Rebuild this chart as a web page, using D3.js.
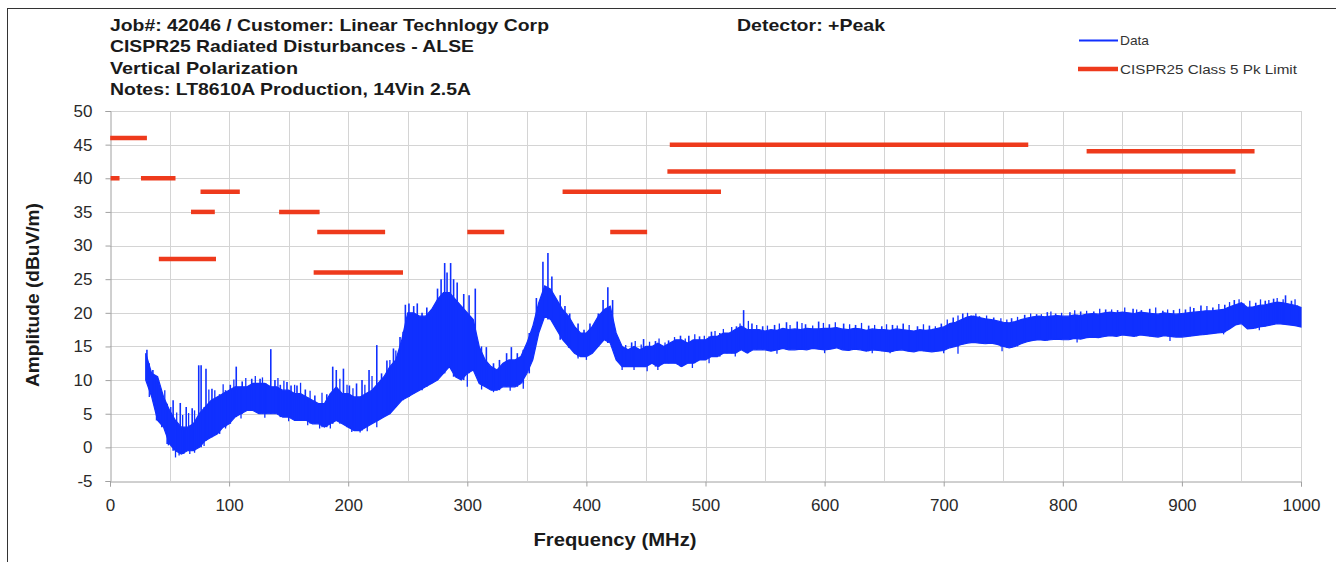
<!DOCTYPE html>
<html><head><meta charset="utf-8">
<script src="https://cdn.jsdelivr.net/npm/d3@7/dist/d3.min.js"></script>
<style>body{margin:0;background:#fff}svg{display:block}text{font-family:"Liberation Sans",Arial,sans-serif}</style>
</head><body>
<svg id="c" width="1336" height="562"></svg>
<script>
// ---- data ----
const titleLines = ["Job#: 42046 / Customer: Linear Technlogy Corp","CISPR25 Radiated Disturbances - ALSE","Vertical Polarization","Notes: LT8610A Production, 14Vin 2.5A"];
const detectorText = "Detector: +Peak";
const xTicks = [0,100,200,300,400,500,600,700,800,900,1000];
const yTicks = [-5,0,5,10,15,20,25,30,35,40,45,50];
const seriesNames = ["Data","CISPR25 Class 5 Pk Limit"];

// Limit segments: [fStart, fEnd, level]
const limitStart = [0.15, 0.5, 26, 76, 68, 142, 174, 41, 171, 300, 420, 380, 470, 468, 820];
const limitEnd   = [31, 8, 55, 109, 88, 176, 231, 89, 246, 331, 451, 513, 771, 945, 961];
const limitLevel = [46, 40, 40, 38, 35, 35, 32, 28, 26, 32, 32, 38, 45, 41, 44];

// Measured trace envelope (MHz, lower and upper edge of the dense trace)
const dataFreq = [30,35,40,45,50,55,60,65,70,75,80,85,90,95,100,
105,110,115,120,125,130,135,140,145,150,155,160,165,170,175,180,185,190,195,200,
205,210,215,220,225,230,235,240,245,250,255,260,265,270,275,280,285,290,295,300,
305,310,315,320,325,330,335,340,345,350,355,360,365,370,375,380,385,390,395,400,
405,410,415,420,425,430,435,440,445,450,455,460,465,470,475,480,485,490,495,500,
505,510,515,520,525,530,535,540,545,550,555,560,565,570,575,580,585,590,595,600,
605,610,615,620,625,630,635,640,645,650,655,660,665,670,675,680,685,690,695,700,
705,710,715,720,725,730,735,740,745,750,755,760,765,770,775,780,785,790,795,800,
805,810,815,820,825,830,835,840,845,850,855,860,865,870,875,880,885,890,895,900,
905,910,915,920,925,930,935,940,945,950,955,960,965,970,975,980,985,990,995,1000];
const dataLow = [10,7.5,4,3,0.5,-0.5,-1,-0.5,-0.5,0,1,1.5,2,3,3.5,
4.5,5,5.5,5.5,5,5,5,5,4.5,4.5,4,4,4,3.5,3.5,3,3.5,4,3.5,3,
2.5,2.5,3,3.5,4,4.5,5,6,7,7.5,8,8.5,9,9.5,10,11,12,10.5,10,11,
11.5,9.5,9,8.5,8.5,9,9,9,9.5,11,13,17,19.5,19,17.5,16,15,14,13.5,13.5,
14,15,16,15.5,13,12,12,12,12,12,12.5,12,12.5,12.5,12.5,12,12.5,12.5,13,13,
13.5,13.5,14,14,14,14.5,14,14.5,14.5,14.5,14.3,14.5,14.7,14.5,14.5,14.6,14.5,14.7,14.6,14.5,
14.6,14.8,14.5,14.4,14.6,14.5,14.3,14.5,14.4,14.3,14.2,14.4,14.5,14.3,14.2,14.4,14.3,14.2,14.3,14.4,
14.8,15,15.3,15.5,15.6,15.5,15.4,15.5,15.3,15,14.8,15,15.4,15.7,15.9,16,15.9,16,16.1,16,
16,16.2,16.1,16.3,16.4,16.3,16.5,16.6,16.5,16.7,16.6,16.5,16.7,16.6,16.5,16.4,16.6,16.5,16.4,16.4,
16.5,16.6,16.7,16.8,16.9,17,17.1,17.6,18.2,18.4,17.6,17.7,17.9,18,18.2,18.4,18.3,18.2,18.1,17.9];
const dataHigh = [14,11,10.5,7.5,5.5,4,3,3,3.5,5,6,7,7.5,8,8.5,
9,9,9,9.5,9.5,9.5,9,9,8.5,8.5,8,8,7.5,7,6.5,6.5,8,9,8,8,
7.5,7.5,8,8.5,9.5,10.5,12,13,16,20,20,19.5,19.5,20.5,22,23,23,22,21,20,
19,15,13,12,11.5,12.5,13,13,13.5,15.5,18,21.5,24,23.5,22,20.5,19.5,18,17,17,
18,19.5,20.5,21,17,15,14.5,15,14.5,15,15,15.5,15,15.5,16,16,15.5,16,16,16,
16.5,16.5,17,17,17.5,18,17.5,17.5,17.5,17.3,17.5,17.4,17.7,17.5,17.6,17.5,17.7,17.6,17.6,17.7,
17.7,17.8,17.6,17.5,17.7,17.6,17.4,17.6,17.5,17.5,17.4,17.6,17.5,17.4,17.3,17.5,17.4,17.5,17.7,17.9,
18.4,18.6,19,19.4,19.5,19.3,19.1,19,18.8,18.6,18.5,18.7,19,19.2,19.4,19.5,19.4,19.5,19.6,19.5,
19.5,19.7,19.6,19.8,19.9,19.8,20,20.1,20,20.1,20,19.9,20.1,20,19.9,19.8,20,19.9,19.8,19.9,
20,20.1,20.2,20.3,20.3,20.4,20.5,20.9,21.2,21.5,20.8,20.9,21.1,21.2,21.4,21.6,21.5,21.3,21.1,20.8];

// Narrow spikes rising above the trace: frequency and peak value
const spikeFreq = [31,36,43.5,48,53,59,64,69,74.5,76.5,80.6,85.6,92,97,101,106,111,119,126,131,135,138.5,143,148.6,152,157,164,172,182,187,190,196,201,207,211.6,217.5,224,228,232.5,238,243.5,248,251,255,258,262,266,270,275,278,281,283,286,288.5,291.5,297,301.5,306.7,316,322,327,333,337,342,347,352,358,363.5,367.7,371,378,382,386,393,398,403,410,414,418,422,438,448,458,469,479,486,495,505,512,518,526,532,539,548,558,568,577,584,595,604,616,626,637,648,657,666,678,688,698,708,716,723,730,742,757,768,778,787,794,806,815,826,836,846,859,866,873,884,893,903,910,916,926,936,944,952,962,970,977,982,987,992,997];
const spikePeak = [14.5,11.5,8,6.5,7,6.6,6,5.8,12.2,12.2,11.7,8.7,7.9,8.5,9.3,12,9.8,10.2,10.2,9.5,14.6,10,9.3,9.7,9.2,9.2,8.6,7.7,7.9,12,11.5,11.7,9.2,9.5,10,11.5,15.2,11,12.9,14.7,16.4,21.2,21.4,21,21.4,20,20.8,19.5,23.6,25,27.4,26,27.4,25,24.5,22.8,22.6,23.6,14.9,12.5,13,14,14.9,14,14.5,17,22.2,27.6,28.9,25.4,22.6,21,19.9,18.4,17.5,18.4,19.9,21.9,23.8,21.9,15.6,16.1,15.8,15.9,16.6,16.6,16.5,17.2,17,16.9,18,20.4,18.4,18,18.2,18.6,18.7,18.3,18.7,18.3,18.4,18.2,18.1,18,18.2,18.4,18,18.1,18.4,19.3,19.9,19.6,19.5,19.3,19.2,19.7,19.8,20.1,19.9,20.1,20.2,20.2,20.5,20.4,20.6,20.4,20.6,20.3,20.4,20.5,20.7,21.1,20.8,21.2,21.9,21.4,21.5,21.8,22.1,21.6,22.6,21.8,21.1];
// Smaller texture spikes along the upper edge
const tickFreq = [33,39,46,51,56,61,66,71,83,88,95,104,114,122,128,141,146,155,160,168,178,193,199,204,214,220,235,240,246,
433,441,446,453,461,466,474,483,491,499,508,515,522,529,536,543,552,562,571,581,590,599,609,621,631,642,652,661,671,683,693,703,712,720,727,736,748,753,762,773,782,790,799,810,820,831,841,852,862,878,888,898,907,921,931,940,948,957,966,973,980,985,995];
const tickPeak = [12.5,10.5,8.5,6,5.2,4.8,5.1,5.5,8.6,8.5,9.4,10.1,10.3,10.6,10.4,10.3,9.9,9.3,9.6,8.4,8.1,10.2,9.3,8.8,9.3,10.6,13,14.4,17.2,
15.2,15.8,15.3,15.7,16.2,15.6,16.4,16.2,16.8,16.6,17.3,17.6,17.9,18.4,18.8,18.2,18.1,18.4,18.2,18.5,18.1,18.5,18.6,18.3,18.5,18.2,18.3,18.1,18.2,18.3,18.0,19.0,19.6,20.0,19.9,19.6,19.2,19.0,19.4,19.9,19.8,20.2,20.0,20.4,20.3,20.6,20.5,20.8,20.5,20.8,20.5,20.6,20.9,21.0,21.3,21.6,22.0,21.8,22.0,21.9,22.2,22.0,22.0];
// Narrow dips below the trace: frequency and lowest value
const dipFreq = [49,55,58,62,67,71,79,97,110,130,150,166,176,185,203,210,216,224,300,312,322,336,347,385,393,400,430,440,451,460,489,503,525,560,600,640,655,700,712,749,812,890,935,965];
const dipLow = [0.3,-1.5,-1.2,-1,-1,-0.8,0.2,2.8,4.3,4.4,3.9,3.3,2.8,2.8,2.3,2.2,2.4,3,9,8.6,8.2,8.4,8.7,14.8,13.2,13,11.5,11.5,11.3,11.5,11.8,12.5,13.5,13.9,14,14,14,14,13.9,14.3,15.6,15.8,16.8,17.4];

// ---- drawing ----
const svg = d3.select("#c");
const blue = "#1030ff", red = "#ee3a1c";
const x = d3.scaleLinear().domain([0,1000]).range([110,1301]);
const y = d3.scaleLinear().domain([-5,50]).range([481,111]);

// outer frame
svg.append("rect").attr("x",7.5).attr("y",8.5).attr("width",1340).attr("height",570)
  .attr("fill","none").attr("stroke","#333").attr("stroke-width",1);

// grid
const g = svg.append("g");
g.selectAll(".vg").data(d3.range(50,1001,50)).join("line")
  .attr("x1",d=>Math.round(x(d))+0.5).attr("x2",d=>Math.round(x(d))+0.5)
  .attr("y1",y(50)).attr("y2",y(-5)).attr("stroke","#d4d4d4");
g.selectAll(".hg").data(yTicks.filter(v=>v>-5)).join("line")
  .attr("y1",d=>Math.round(y(d))+0.5).attr("y2",d=>Math.round(y(d))+0.5)
  .attr("x1",x(0)).attr("x2",x(1000)).attr("stroke","#d4d4d4");

// axes
const fmt = d => String(d);
const ax = svg.append("g").attr("transform",`translate(0,${Math.round(y(-5))+0.5})`)
  .call(d3.axisBottom(x).tickValues(xTicks).tickSize(5).tickPadding(12).tickFormat(fmt));
const ay = svg.append("g").attr("transform",`translate(${Math.round(x(0))+0.5},0)`)
  .call(d3.axisLeft(y).tickValues(yTicks).tickSize(5).tickPadding(13).tickFormat(fmt));
[ax,ay].forEach(a=>{
  a.select(".domain").attr("stroke","#a0a0a0");
  a.selectAll(".tick line").attr("stroke","#a0a0a0");
  a.selectAll(".tick text").attr("fill","#2a2a2a").style("font-size","17px").style("font-family","'Liberation Sans',Arial,sans-serif");
});

// limit lines
const limits = limitLevel.map((v,i)=>({a:limitStart[i],b:limitEnd[i],v}));
svg.append("g").selectAll("line").data(limits).join("line")
  .attr("x1",d=>x(d.a)).attr("x2",d=>x(d.b)).attr("y1",d=>y(d.v)).attr("y2",d=>y(d.v))
  .attr("stroke",red).attr("stroke-width",4.5);

// data trace
const env = dataFreq.map((f,i)=>({f,lo:dataLow[i],hi:dataHigh[i]}));
const area = d3.area().x(d=>x(d.f)).y0(d=>y(d.lo)).y1(d=>y(d.hi));
svg.append("path").datum(env).attr("d",area).attr("fill",blue).attr("stroke",blue).attr("stroke-width",1.2);
const near = f => env[d3.bisector(d=>d.f).center(env,f)];
const tr = svg.append("g").attr("stroke",blue);
tr.selectAll(".sp").data(spikeFreq.map((f,i)=>({f,p:spikePeak[i]}))).join("line")
  .attr("x1",d=>x(d.f)).attr("x2",d=>x(d.f)).attr("y1",d=>y(d.p)).attr("y2",d=>y(near(d.f).lo))
  .attr("stroke-width",1.6);
tr.selectAll(".tk").data(tickFreq.map((f,i)=>({f,p:tickPeak[i]}))).join("line")
  .attr("x1",d=>x(d.f)).attr("x2",d=>x(d.f)).attr("y1",d=>y(d.p)).attr("y2",d=>y(near(d.f).lo))
  .attr("stroke-width",1.3);
tr.selectAll(".dp").data(dipFreq.map((f,i)=>({f,p:dipLow[i]}))).join("line")
  .attr("x1",d=>x(d.f)).attr("x2",d=>x(d.f)).attr("y1",d=>y(d.p)).attr("y2",d=>y(near(d.f).hi))
  .attr("stroke-width",1.3);

// titles
const tl = [[110,31,439],[110,52,364],[110,74,188],[110,95,361]];
titleLines.forEach((t,i)=>{
  svg.append("text").attr("x",tl[i][0]).attr("y",tl[i][1]).attr("textLength",tl[i][2]).attr("lengthAdjust","spacingAndGlyphs")
    .attr("font-weight","bold").attr("font-size",17).attr("fill","#1a1a1a").text(t);
});
svg.append("text").attr("x",737).attr("y",31).attr("textLength",148).attr("lengthAdjust","spacingAndGlyphs")
  .attr("font-weight","bold").attr("font-size",17).attr("fill","#1a1a1a").text(detectorText);

// legend
svg.append("line").attr("x1",1079).attr("x2",1118).attr("y1",40.5).attr("y2",40.5).attr("stroke",blue).attr("stroke-width",2);
svg.append("text").attr("x",1120).attr("y",45).attr("font-size",13).attr("fill","#333").attr("textLength",29).attr("lengthAdjust","spacingAndGlyphs").text(seriesNames[0]);
svg.append("line").attr("x1",1078).attr("x2",1118).attr("y1",69).attr("y2",69).attr("stroke",red).attr("stroke-width",4.5);
svg.append("text").attr("x",1120).attr("y",74).attr("font-size",13).attr("fill","#333").attr("textLength",177).attr("lengthAdjust","spacingAndGlyphs").text(seriesNames[1]);

// axis titles
svg.append("text").attr("x",615).attr("y",546).attr("text-anchor","middle").attr("font-weight","bold").attr("font-size",18)
  .attr("fill","#1a1a1a").attr("textLength",163).attr("lengthAdjust","spacingAndGlyphs").text("Frequency (MHz)");
svg.append("text").attr("transform","translate(39,295) rotate(-90)").attr("text-anchor","middle").attr("font-weight","bold").attr("font-size",18)
  .attr("fill","#1a1a1a").attr("textLength",184).attr("lengthAdjust","spacingAndGlyphs").text("Amplitude (dBuV/m)");
</script>
</body></html>
